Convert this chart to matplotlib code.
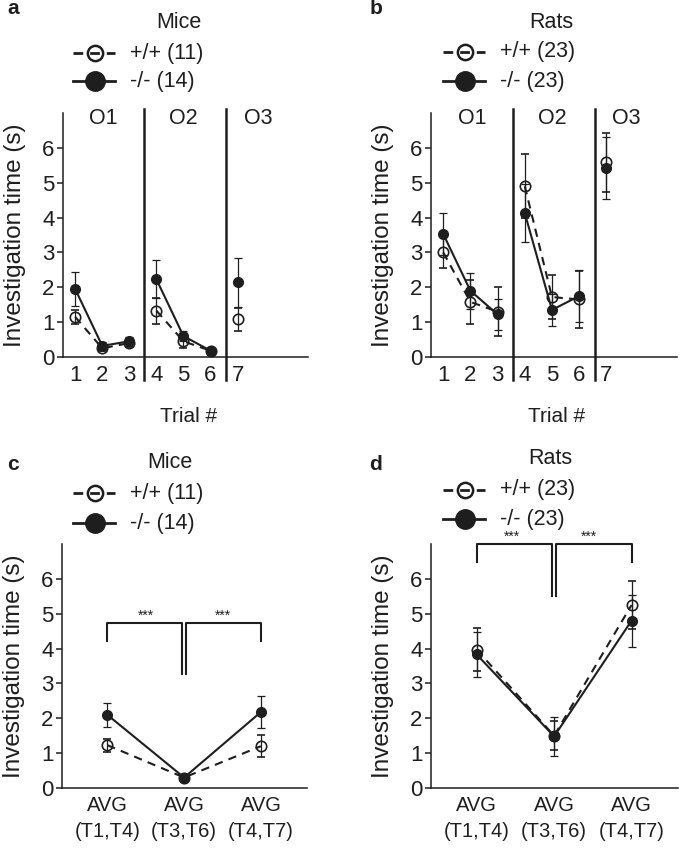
import matplotlib
matplotlib.use('Agg')
import matplotlib.pyplot as plt
from matplotlib.lines import Line2D

plt.rcParams['font.family'] = ['Liberation Sans', 'DejaVu Sans']

# trial data (a, b)
trials = [1, 2, 3, 4, 5, 6, 7]
trial_groups = [(0, 3), (3, 6), (6, 7)]
object_names = ['O1', 'O2', 'O3']

mice_wt = [1.15, 0.25, 0.40, 1.33, 0.45, 0.18, 1.08]
mice_wt_err = [0.21, 0.08, 0.12, 0.37, 0.18, 0.05, 0.32]
mice_ko = [1.95, 0.32, 0.45, 2.23, 0.60, 0.18, 2.14]
mice_ko_err = [0.48, 0.12, 0.13, 0.55, 0.15, 0.05, 0.70]

rats_wt = [3.00, 1.58, 1.30, 4.90, 1.72, 1.65, 5.58]
rats_wt_err = [0.46, 0.62, 0.70, 0.91, 0.64, 0.83, 0.84]
rats_ko = [3.53, 1.90, 1.22, 4.13, 1.35, 1.75, 5.43]
rats_ko_err = [0.60, 0.52, 0.45, 0.83, 0.47, 0.74, 0.89]

# averaged data (c, d)
avg_labels = ['AVG\n(T1,T4)', 'AVG\n(T3,T6)', 'AVG\n(T4,T7)']
mice_avg_wt = [1.23, 0.30, 1.20]
mice_avg_wt_err = [0.19, 0.05, 0.31]
mice_avg_ko = [2.10, 0.30, 2.18]
mice_avg_ko_err = [0.34, 0.05, 0.47]

rats_avg_wt = [3.97, 1.50, 5.25]
rats_avg_wt_err = [0.62, 0.42, 0.68]
rats_avg_ko = [3.83, 1.48, 4.80]
rats_avg_ko_err = [0.65, 0.57, 0.75]

mice_labels = ['+/+ (11)', '-/- (14)']
rats_labels = ['+/+ (23)', '-/- (23)']

W, H = 685, 848
INK = '#1e1e1e'
fig = plt.figure(figsize=(W / 100, H / 100), dpi=100)


def px_axes(left, top, right, bottom):
    return fig.add_axes([left / W, 1 - bottom / H, (right - left) / W, (bottom - top) / H])


def style_axes(ax, xsize):
    for s in ['top', 'right']:
        ax.spines[s].set_visible(False)
    for s in ['left', 'bottom']:
        ax.spines[s].set_linewidth(1.1)
        ax.spines[s].set_color(INK)
    ax.set_ylim(0, 7)
    ax.set_yticks(range(7))
    ax.tick_params(axis='y', length=4, width=1.1, pad=2, labelsize=16, colors=INK)
    ax.tick_params(axis='x', length=0, pad=6, labelsize=xsize, colors=INK)
    ax.set_ylabel('Investigation time (s)', fontsize=17.5, color=INK)
    ax.yaxis.set_label_coords(-0.15, 0.5)


def draw_series(ax, x, y, err, filled):
    if filled:
        kw = dict(ls='-', mfc=INK, ms=7, zorder=4)
    else:
        kw = dict(ls='--', dashes=(4, 3), mfc='none', ms=7.5, mew=1.2, zorder=3)
    ax.errorbar(x, y, yerr=err, marker='o', color=INK, mec=INK, lw=1.5,
                elinewidth=0.9, capsize=3, capthick=0.9, **kw)


def draw_trials(ax, wt, wt_err, ko, ko_err):
    style_axes(ax, 16)
    for a, b in trial_groups:
        draw_series(ax, trials[a:b], wt[a:b], wt_err[a:b], False)
        draw_series(ax, trials[a:b], ko[a:b], ko_err[a:b], True)
    ax.set_xlim(0.55, 9.6)
    ax.set_xticks(trials)
    ax.set_xticklabels([str(t) for t in trials])
    for xs in [3.55, 6.58]:
        ax.axvline(xs, ymin=-0.094, ymax=1.016, clip_on=False, color=INK, lw=1.8)
    for name, xo in zip(object_names, [2.05, 5.0, 7.75]):
        ax.text(xo, 6.83, name, ha='center', va='center', fontsize=15.5, color=INK)
    ax.set_xlabel('Trial #', fontsize=15, color=INK)
    ax.xaxis.set_label_coords(0.512, -0.205)


def draw_avg(ax, wt, wt_err, ko, ko_err, top, leg, low, star_x):
    style_axes(ax, 14.5)
    x = [1, 2, 3]
    draw_series(ax, x, wt, wt_err, False)
    draw_series(ax, x, ko, ko_err, True)
    ax.set_xlim(0.41, 3.6)
    ax.set_xticks(x)
    ax.set_xticklabels(avg_labels)
    for lbl in ax.get_xticklabels():
        lbl.set_linespacing(1.45)
    d = 0.027
    ax.plot([1, 1, 2 - d, 2 - d], [leg, top, top, low], color=INK, lw=1.5, clip_on=False)
    ax.plot([2 + d, 2 + d, 3, 3], [low, top, top, leg], color=INK, lw=1.5, clip_on=False)
    for sx in star_x:
        ax.text(sx, top + 0.01, '***', ha='center', va='bottom', fontsize=10, color=INK)


def draw_legend(letter, letter_xy, title, title_xy, x0, rows, labels):
    fig.text(letter_xy[0] / W, 1 - letter_xy[1] / H, letter, ha='center', va='center',
             fontsize=15, weight='bold', color=INK)
    fig.text(title_xy[0] / W, 1 - title_xy[1] / H, title, ha='center', va='center',
             fontsize=15.5, color=INK)
    styles = [dict(ls='--', dashes=(3.5, 2.5), mfc='none', ms=11, mew=1.8),
              dict(ls='-', mfc=INK, ms=14)]
    for y, lab, st in zip(rows, labels, styles):
        fy = 1 - y / H
        fig.add_artist(Line2D([x0 / W, (x0 + 42) / W], [fy, fy], transform=fig.transFigure,
                              color=INK, lw=2, ls=st['ls'],
                              **({'dashes': st['dashes']} if 'dashes' in st else {})))
        fig.add_artist(Line2D([(x0 + 22) / W], [fy], transform=fig.transFigure, ls='none',
                              marker='o', mfc=st['mfc'], mec=INK, ms=st['ms'],
                              mew=st.get('mew', 1)))
        fig.text((x0 + 57) / W, fy, lab, ha='left', va='center', fontsize=15.5, color=INK)


ax_a = px_axes(63, 113, 308, 357)
draw_trials(ax_a, mice_wt, mice_wt_err, mice_ko, mice_ko_err)
ax_b = px_axes(431, 113, 677, 357)
draw_trials(ax_b, rats_wt, rats_wt_err, rats_ko, rats_ko_err)
ax_c = px_axes(62, 544, 307, 788)
draw_avg(ax_c, mice_avg_wt, mice_avg_wt_err, mice_avg_ko, mice_avg_ko_err,
         4.72, 4.21, 3.27, [1.5, 2.5])
ax_d = px_axes(431, 544, 678, 788)
draw_avg(ax_d, rats_avg_wt, rats_avg_wt_err, rats_avg_ko, rats_avg_ko_err,
         7.0, 6.48, 5.52, [1.45, 2.45])

draw_legend('a', (13, 9), 'Mice', (179, 22), 73, [53, 81], mice_labels)
draw_legend('b', (376, 9), 'Rats', (551, 22), 443, [52, 81], rats_labels)
draw_legend('c', (13, 465), 'Mice', (170, 463), 73, [493, 523], mice_labels)
draw_legend('d', (375, 465), 'Rats', (550, 459), 443, [490, 519], rats_labels)

fig.savefig('out.png', dpi=100)
